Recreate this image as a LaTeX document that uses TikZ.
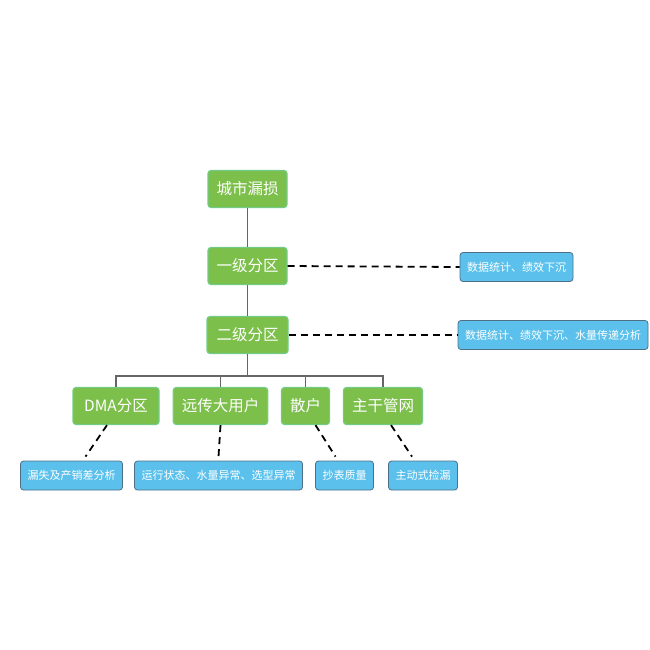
\documentclass[tikz,border=0pt]{standalone}
\usepackage{fontspec}
\setmainfont{Noto Sans CJK SC}
\definecolor{leafgreen}{HTML}{7CBF4A}
\definecolor{leafedge}{HTML}{72CC86}
\definecolor{skyblue}{HTML}{5BC1EC}
\definecolor{skyedge}{HTML}{4F6F86}
\definecolor{treegray}{HTML}{666666}
\tikzset{
  levelbox/.style={draw=leafedge, line width=1.2pt, fill=leafgreen, rounded corners=3pt,
    text=white, font=\fontsize{15.5}{17}\selectfont, minimum height=37pt, inner xsep=8.5pt},
  notebox/.style={draw=skyedge, line width=0.8pt, fill=skyblue, rounded corners=3pt,
    text=white, font=\fontsize{11}{13}\selectfont, minimum height=29pt, inner xsep=7pt},
  tree/.style={draw=treegray, line width=1.6pt},
  dashline/.style={draw=black, line width=1.8pt, dash pattern=on 7pt off 5pt},
}
\begin{document}
\begin{tikzpicture}[x=1pt, y=-1pt]
    \useasboundingbox (0, 0) rectangle (650, 650);

    \node[levelbox] (city) at (247.5, 189) {城市漏损};
    \node[levelbox] (lvl1) at (247.5, 266) {一级分区};
    \node[levelbox, minimum width=81pt] (lvl2) at (247.5, 335) {二级分区};

    \node[levelbox, minimum width=86pt] (dma) at (116, 406) {DMA分区};
    \node[levelbox] (remote) at (220.5, 406) {远传大用户};
    \node[levelbox] (retail) at (305.5, 406) {散户};
    \node[levelbox] (trunk) at (383, 406) {主干管网};

    \node[notebox] (stat1) at (516.5, 267) {数据统计、绩效下沉};
    \node[notebox] (stat2) at (553, 335) {数据统计、绩效下沉、水量传递分析};
    \node[notebox] (leak) at (71.5, 475.5) {漏失及产销差分析};
    \node[notebox] (state) at (218.5, 475.5) {运行状态、水量异常、选型异常};
    \node[notebox] (meter) at (344.5, 475.5) {抄表质量};
    \node[notebox] (detect) at (423, 475.5) {主动式捡漏};

    \coordinate (bus) at (0, 376);

    \draw[tree] (city) -- (lvl1);
    \draw[tree] (lvl1) -- (lvl2);
    \foreach \c in {dma, remote, retail, trunk}
      \draw[tree] (lvl2.south) -- (lvl2.south |- bus) -| (\c.north);

    \draw[dashline] (lvl1.east) -- (stat1.west);
    \draw[dashline] (lvl2.east) -- (stat2.west);
    \draw[dashline] ([xshift=-9pt]dma.south) -- ([xshift=14pt, yshift=4pt]leak.north);
    \draw[dashline] (remote.south) -- ([yshift=4pt]state.north);
    \draw[dashline] ([xshift=10pt]retail.south) -- ([xshift=-9pt, yshift=4pt]meter.north);
    \draw[dashline] ([xshift=8pt]trunk.south) -- ([xshift=-11pt, yshift=4pt]detect.north);
  \end{tikzpicture}
\end{document}
